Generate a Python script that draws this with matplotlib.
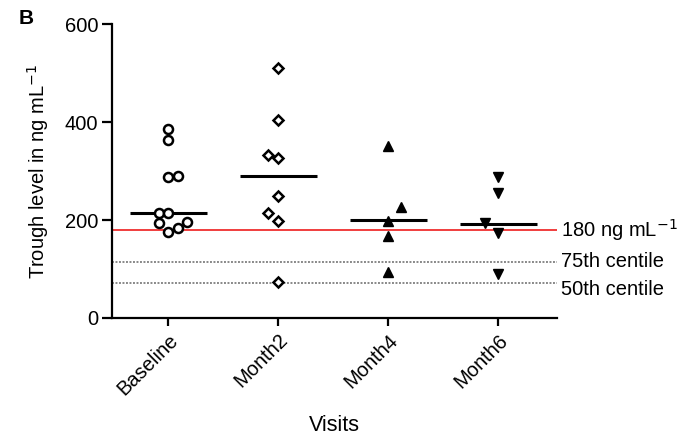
import matplotlib
matplotlib.use("Agg")
import matplotlib.pyplot as plt
import numpy as np

plt.rcParams['font.family'] = ['Liberation Sans', 'DejaVu Sans']

categories = ["Baseline", "Month2", "Month4", "Month6"]
baseline = [385, 363, 287, 290, 215, 215, 193, 176, 184, 195]
baseline_dx = [0.0, 0.0, 0.0, 0.09, -0.08, 0.0, -0.08, 0.0, 0.09, 0.17]
month2 = [510, 405, 333, 327, 249, 215, 199, 73]
month2_dx = [0.0, 0.0, -0.09, 0.0, 0.0, -0.09, 0.0, 0.0]
month4 = [351, 226, 198, 167, 93]
month4_dx = [0.0, 0.12, 0.0, 0.0, 0.0]
month6 = [287, 256, 193, 174, 90]
month6_dx = [0.0, 0.0, -0.12, 0.0, 0.0]
medians = [214, 289, 200, 191]
target = 180
centile75 = 115
centile50 = 71
yticks = [0, 200, 400, 600]

FS = 14.5

fig = plt.figure(figsize=(6.85, 4.4), dpi=100)
ax = fig.add_axes([0.1635, 0.2773, 0.649, 0.668])

series = [baseline, month2, month4, month6]
offsets = [baseline_dx, month2_dx, month4_dx, month6_dx]
markers = ['o', 'D', '^', 'v']
filled = [False, False, True, True]
sizes = [6.5, 5.5, 7, 7]

ax.axhline(target, color='#ee1c1c', lw=1.2, zorder=1)
ax.axhline(centile75, color='#888888', lw=1.4, ls=(0, (1, 0.8)), zorder=1)
ax.axhline(centile50, color='#888888', lw=1.4, ls=(0, (1, 0.8)), zorder=1)

for i, (vals, dx) in enumerate(zip(series, offsets)):
    x = i + np.array(dx)
    if filled[i]:
        ax.plot(x, vals, ls='none', marker=markers[i], ms=sizes[i],
                mfc='black', mec='black', zorder=3)
    else:
        ax.plot(x, vals, ls='none', marker=markers[i], ms=sizes[i],
                mfc='white', mec='black', mew=1.8, zorder=3)
    ax.plot([i - 0.35, i + 0.35], [medians[i], medians[i]], color='black',
            lw=2.2, zorder=2, solid_capstyle='butt')

ax.set_xlim(-0.51, 3.53)
ax.set_ylim(0, 600)
ax.set_yticks(yticks)
ax.set_xticks(range(len(categories)))
ax.set_xticklabels(categories, rotation=45, ha='right', rotation_mode='anchor')
ax.spines['top'].set_visible(False)
ax.spines['right'].set_visible(False)
for s in ['left', 'bottom']:
    ax.spines[s].set_linewidth(1.6)
ax.tick_params(axis='y', width=1.6, length=7, labelsize=FS, pad=3)
ax.tick_params(axis='x', width=1.6, length=6, labelsize=FS, pad=3)
ax.set_ylabel("Trough level in ng mL$^{-1}$", fontsize=FS, labelpad=10)
ax.set_xlabel("Visits", fontsize=15.5, labelpad=12)

trans = ax.get_yaxis_transform()
ax.text(1.01, target, "180 ng mL$^{-1}$", transform=trans, va='center', ha='left', fontsize=FS)
ax.text(1.01, centile75, "75th centile", transform=trans, va='center', ha='left', fontsize=FS)
ax.text(1.01, centile50 - 13, "50th centile", transform=trans, va='center', ha='left', fontsize=FS)

fig.text(0.038, 0.957, "B", fontsize=15, fontweight='bold', va='center', ha='center')

fig.savefig("out.png", dpi=100)
